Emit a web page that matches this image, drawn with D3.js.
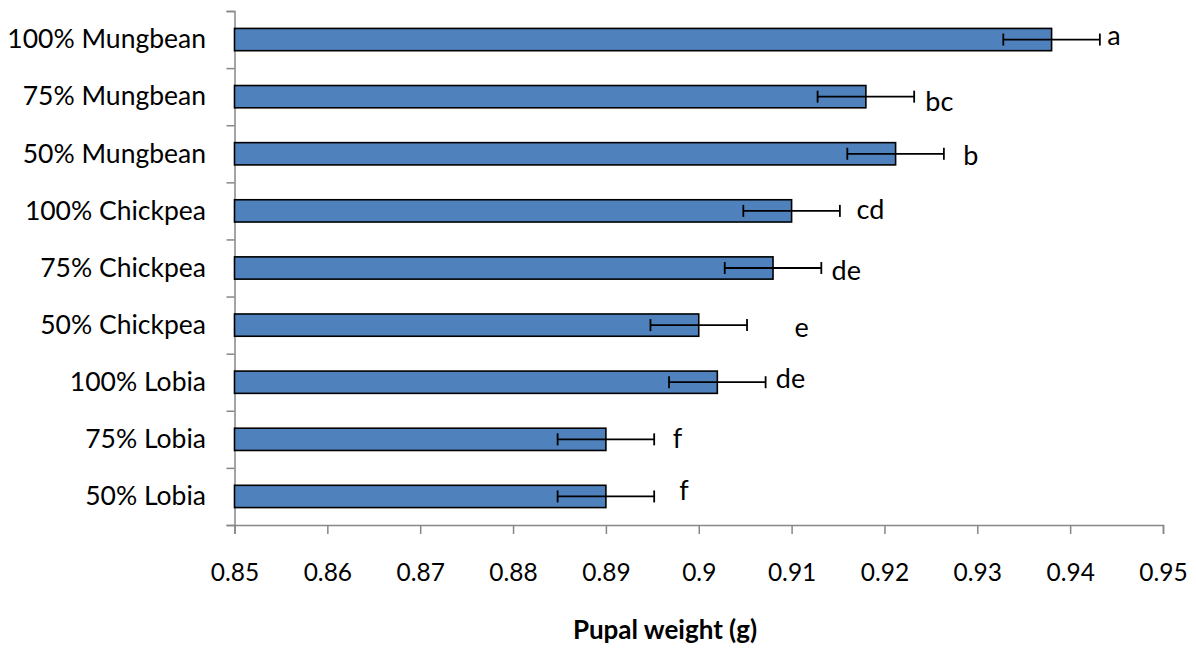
<!DOCTYPE html>
<html><head><meta charset="utf-8">
<script src="https://cdn.jsdelivr.net/npm/d3@7"></script>
<style>body{margin:0;background:#fff}svg{display:block}text{font-family:Lato,"Open Sans",sans-serif;fill:#000}</style>
</head><body><svg id="c" width="1196" height="652"></svg>
<script>
const categories = ["100% Mungbean","75% Mungbean","50% Mungbean","100% Chickpea","75% Chickpea","50% Chickpea","100% Lobia","75% Lobia","50% Lobia"];
const values = [0.938,0.918,0.9212,0.910,0.908,0.900,0.902,0.890,0.890];
const errors = [0.0052,0.0052,0.0052,0.0052,0.0052,0.0052,0.0052,0.0052,0.0052];
const letters = ["a","bc","b","cd","de","e","de","f","f"];
const letterX = [0.9440,0.9244,0.9285,0.9170,0.9143,0.9103,0.9083,0.8972,0.8979];
const letterDy = [5.5,14,11,8,12,11.5,5.5,8.5,3.5];
const tickValues = [0.85,0.86,0.87,0.88,0.89,0.90,0.91,0.92,0.93,0.94,0.95];
const tickLabels = ["0.85","0.86","0.87","0.88","0.89","0.9","0.91","0.92","0.93","0.94","0.95"];
const xTitle = "Pupal weight (g)";

const svg = d3.select("#c");
const L = 234.5, R = 1163, T = 11, B = 525;
const x = d3.scaleLinear().domain([0.85,0.95]).range([L,R]);
const y = d3.scaleBand().domain(categories).range([T,B]).paddingInner(0.61).paddingOuter(0.305);
const yb = d3.scaleLinear().domain([0,categories.length]).range([T,B]);
const axisCol = "#878787";

// y axis with ticks at band boundaries
const ya = svg.append("g").attr("transform",`translate(${L},0)`)
  .call(d3.axisLeft(yb).tickValues(d3.range(categories.length+1)).tickSize(8).tickFormat(""));
ya.select(".domain").attr("stroke",axisCol).attr("stroke-width",1.5);
ya.selectAll(".tick line").attr("stroke",axisCol).attr("stroke-width",1.5);

// category labels
svg.append("g").selectAll("text").data(categories).join("text")
  .attr("x",206).attr("y",d=>y(d)+y.bandwidth()/2).attr("dy","0.33em")
  .attr("text-anchor","end").style("font-size","26.5px").text(d=>d);

// x axis
const xa = svg.append("g").attr("transform",`translate(0,${B})`)
  .call(d3.axisBottom(x).tickValues(tickValues).tickSize(9).tickPadding(30).tickFormat((d,i)=>tickLabels[i]));
xa.select(".domain").attr("stroke",axisCol).attr("stroke-width",1.5);
xa.selectAll(".tick line").attr("stroke",axisCol).attr("stroke-width",1.5);
xa.selectAll(".tick text").style("font-size","24.5px").style("font-family","Lato").attr("fill","#000");

// bars
const bars = svg.append("g");
bars.selectAll("rect").data(values).join("rect")
  .attr("x",x(0.85)).attr("y",(d,i)=>y(categories[i]))
  .attr("width",d=>x(d)-x(0.85)).attr("height",y.bandwidth())
  .attr("fill","#4F81BD").attr("stroke","#000").attr("stroke-width",1.6);

// error bars
const eb = svg.append("g").attr("stroke","#000").attr("stroke-width",1.8);
values.forEach((v,i)=>{
  const cy = y(categories[i])+y.bandwidth()/2;
  eb.append("line").attr("x1",x(v-errors[i])).attr("x2",x(v+errors[i])).attr("y1",cy).attr("y2",cy);
  eb.append("line").attr("x1",x(v-errors[i])).attr("x2",x(v-errors[i])).attr("y1",cy-6).attr("y2",cy+6);
  eb.append("line").attr("x1",x(v+errors[i])).attr("x2",x(v+errors[i])).attr("y1",cy-6).attr("y2",cy+6);
});

// letters
svg.append("g").selectAll("text").data(letters).join("text")
  .attr("x",(d,i)=>x(letterX[i])).attr("y",(d,i)=>y(categories[i])+y.bandwidth()/2+letterDy[i])
  .style("font-size","27px").text(d=>d);

// title
svg.append("text").attr("x",665).attr("y",639).attr("text-anchor","middle")
  .style("font-size","26px").style("font-weight","bold").text(xTitle);
</script></body></html>
